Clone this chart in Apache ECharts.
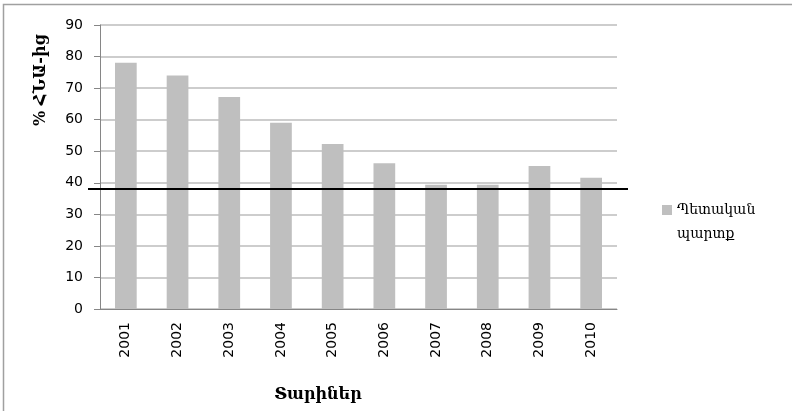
<!DOCTYPE html>
<html>
<head>
<meta charset="utf-8">
<script src="https://cdn.jsdelivr.net/npm/echarts@6/dist/echarts.min.js"></script>
<style>
  html, body { margin: 0; padding: 0; background: #fff; }
  #chart { width: 792px; height: 411px; }
</style>
</head>
<body>
<div id="chart"></div>
<script>
// data
const years = ['2001', '2002', '2003', '2004', '2005', '2006', '2007', '2008', '2009', '2010']
const debtShare = [78, 74, 67.2, 59, 52.3, 46.2, 39.4, 39.4, 45.3, 41.6]
const thresholdLevel = 38
const seriesName = 'Պետական պարտք'
const yTitle = '% ՀՆԱ-ից'
const xTitle = 'Տարիներ'

const armFont = '"DejaVu Serif", "Noto Sans", serif'
const numFont = '"DejaVu Sans", Verdana, sans-serif'

const chart = echarts.init(document.getElementById('chart'))

const option = {
  animation: false,
  backgroundColor: '#fff',
  grid: { left: 100, right: 175, top: 25, bottom: 102 },
  legend: {
    left: 662,
    top: 198,
    padding: 0,
    orient: 'vertical',
    // square sits on the first text line: extra invisible point stretches the icon box down
    icon: 'path://M0,0H10V10H0Z M0,34L10,34',
    itemWidth: 10,
    itemHeight: 34,
    formatter: () => 'Պետական\nպարտք',
    textStyle: {
      fontFamily: armFont,
      fontSize: 14,
      color: '#000',
      lineHeight: 24
    },
    data: [seriesName]
  },
  xAxis: {
    type: 'category',
    data: years,
    axisLine: { lineStyle: { color: '#868686' } },
    axisTick: { show: false },
    axisLabel: {
      rotate: 90,
      margin: 13,
      fontFamily: numFont,
      fontSize: 14,
      color: '#000'
    }
  },
  yAxis: {
    type: 'value',
    min: 0,
    max: 90,
    interval: 10,
    axisLine: { show: true, lineStyle: { color: '#868686' } },
    axisTick: { show: true, length: 6, lineStyle: { color: '#868686' } },
    splitLine: { lineStyle: { color: '#bcbcbc', width: 1.5 } },
    axisLabel: {
      margin: 17,
      fontFamily: numFont,
      fontSize: 14,
      color: '#000'
    }
  },
  graphic: [
    {
      type: 'rect',
      shape: { x: 3.5, y: 4.5, width: 900, height: 600 },
      style: { fill: 'none', stroke: '#a0a0a0', lineWidth: 1.5 },
      silent: true
    },
    {
      type: 'text',
      x: 41,
      y: 80,
      rotation: Math.PI / 2,
      style: {
        text: yTitle,
        fontFamily: armFont,
        fontSize: 16,
        fontWeight: 'bold',
        fill: '#000',
        align: 'center',
        verticalAlign: 'middle'
      }
    },
    {
      type: 'text',
      x: 318,
      y: 395,
      style: {
        text: xTitle,
        fontFamily: armFont,
        fontSize: 16,
        fontWeight: 'bold',
        fill: '#000',
        align: 'center',
        verticalAlign: 'middle'
      }
    }
  ],
  series: [{
    name: seriesName,
    type: 'bar',
    data: debtShare,
    barCategoryGap: '58%',
    itemStyle: { color: '#bfbfbf' }
  }]
}

chart.setOption(option)

// threshold line reaches a little past the plot on both sides, so place it in pixels from the axis scale
const lineY = chart.convertToPixel({ yAxisIndex: 0 }, thresholdLevel)
const gridRect = chart.getModel().getComponent('grid').coordinateSystem.getRect()
chart.setOption({
  series: [{
    name: seriesName,
    markLine: {
      silent: true,
      symbol: 'none',
      label: { show: false },
      lineStyle: { color: '#000', width: 2, type: 'solid' },
      data: [[
        { x: gridRect.x - 12, y: lineY },
        { x: gridRect.x + gridRect.width + 11, y: lineY }
      ]]
    }
  }]
})
</script>
</body>
</html>
